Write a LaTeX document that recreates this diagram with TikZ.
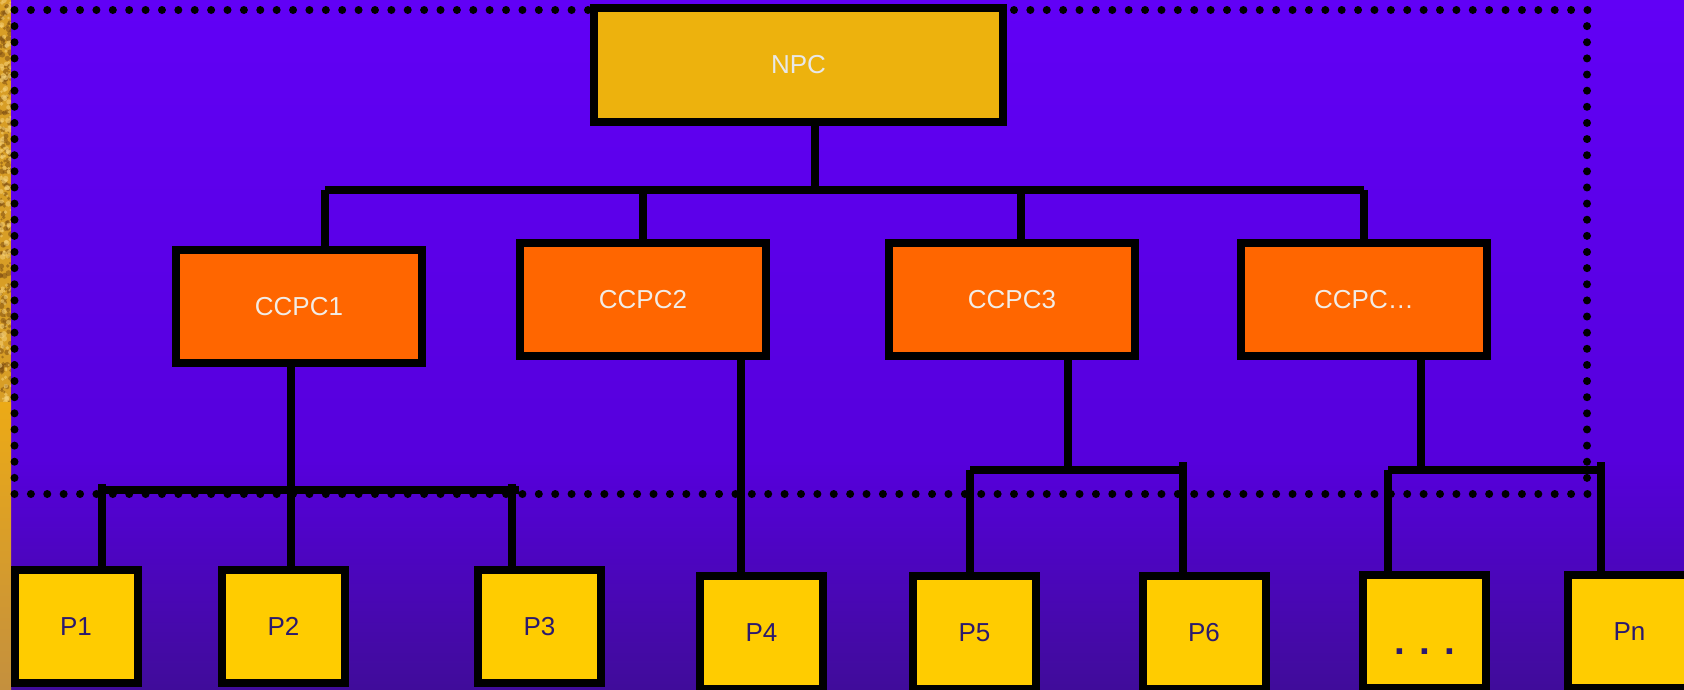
\documentclass[tikz,border=0pt]{standalone}
\usepackage{fontspec}
\setmainfont{Liberation Sans}
\pgfdeclarelayer{back}
\pgfdeclarelayer{lines}
\pgfsetlayers{back,lines,main}
\definecolor{npcfill}{HTML}{EDB20D}
\definecolor{ccpcfill}{HTML}{FF6600}
\definecolor{pfill}{HTML}{FFCC00}
\definecolor{npctext}{HTML}{E8E8E8}
\definecolor{ccpctext}{HTML}{F2ECE6}
\definecolor{ptext}{HTML}{2B1A6E}
\definecolor{bgA}{HTML}{6100F6}
\definecolor{bgB}{HTML}{5600DC}
\definecolor{bgC}{HTML}{400C9A}
\definecolor{stripA}{HTML}{D89E26}
\definecolor{stripDark}{HTML}{7A4A12}
\definecolor{stripLight}{HTML}{F6D27A}
\definecolor{stripB}{HTML}{ECAA16}
\definecolor{stripC}{HTML}{C4903E}
\tikzset{
  box/.style={draw=black, line width=6pt, inner sep=0pt, font=\fontsize{19.5}{23}\selectfont},
  npcbox/.style={box, fill=npcfill, text=npctext, minimum width={409*0.75pt}, minimum height={114*0.75pt}},
  ccpcbox/.style={box, fill=ccpcfill, text=ccpctext, minimum width={246*0.75pt}, minimum height={113*0.75pt}},
  pbox/.style={box, fill=pfill, text=ptext, minimum width={123*0.75pt}, minimum height={113*0.75pt}},
  wire/.style={draw=black, line width=6pt, line cap=butt},
  framedot/.style={fill=black},
}
\begin{document}
\begin{tikzpicture}[x=0.75pt,y=-0.75pt]
\clip (0,0) rectangle (1684,689);
% boxes
\node[npcbox] (npc) at (798.5,65) {NPC};
\node[ccpcbox] (c1) at (299,306.5) {CCPC1};
\node[ccpcbox] (c2) at (643,299.5) {CCPC2};
\node[ccpcbox] (c3) at (1012,299.5) {CCPC3};
\node[ccpcbox] (c4) at (1364,299.5) {CCPC…};
\node[pbox] (p1) at (76,626.5) {P1};
\node[pbox] (p2) at (283.5,626.5) {P2};
\node[pbox] (p3) at (539.5,626.5) {P3};
\node[pbox] (p4) at (761.5,632.5) {P4};
\node[pbox] (p5) at (974.5,632.5) {P5};
\node[pbox] (p6) at (1204,632.5) {P6};
\node[pbox] (pd) at (1424.5,631.5) {\smash{\raisebox{-17.6pt}{\fontsize{29}{30}\selectfont\bfseries . . .}}};
\node[pbox] (pn) at (1629.5,631.5) {Pn};
% background
\begin{pgfonlayer}{back}
  \fill[top color=bgA, bottom color=bgB] (0,0) rectangle (1684,460);
  \fill[top color=bgB, bottom color=bgC] (0,459.5) rectangle (1684,689);
  \begin{scope}
    \clip (0,0) rectangle (11,402);
    \fill[stripA] (0,0) rectangle (11,402);
    \pgfmathsetseed{7}
    \foreach \i in {1,...,170}{
      \pgfmathsetmacro\xx{rnd*11}
      \pgfmathsetmacro\yy{rnd*402}
      \pgfmathsetmacro\rr{0.7+rnd*1.6}
      \fill[stripDark,opacity=0.5] (\xx,\yy) circle[radius=\rr pt];
    }
    \foreach \i in {1,...,140}{
      \pgfmathsetmacro\xx{rnd*11}
      \pgfmathsetmacro\yy{rnd*402}
      \pgfmathsetmacro\rr{0.7+rnd*1.5}
      \fill[stripLight,opacity=0.55] (\xx,\yy) circle[radius=\rr pt];
    }
  \end{scope}
  \fill[top color=stripB, bottom color=stripC] (0,402) rectangle (11,689);
  % dotted frame
  \foreach \i in {0,...,96}{
    \fill[framedot] (14.5+\i*16.385,10) circle[radius=3pt];
    \fill[framedot] (14.5+\i*16.385,494) circle[radius=3pt];
  }
  \foreach \i in {1,...,29}{
    \fill[framedot] (14.5,10+\i*16.133) circle[radius=3pt];
    \fill[framedot] (1587,10+\i*16.133) circle[radius=3pt];
  }
\end{pgfonlayer}
% connectors
\begin{pgfonlayer}{lines}
  \coordinate (t0) at (815,190);
  \coordinate (t1) at (325,190);
  \coordinate (t2) at (643,190);
  \coordinate (t3) at (1021,190);
  \coordinate (t4) at (1364,190);
  \draw[wire] (t1) -- (t4);
  \draw[wire] (npc.south -| t0) -- (t0);
  \draw[wire] (t1) -- (t1 |- c1.north);
  \draw[wire] (t2) -- (t2 |- c2.north);
  \draw[wire] (t3) -- (t3 |- c3.north);
  \draw[wire] (t4) -- (t4 |- c4.north);
  % CCPC1 group
  \coordinate (aL) at (98,490);
  \coordinate (aR) at (519,490);
  \coordinate (a1) at (102,484);
  \coordinate (a2) at (291,490);
  \coordinate (a3) at (512,484);
  \draw[wire] (aL) -- (aR);
  \draw[wire] (a1) -- (a1 |- p1.north);
  \draw[wire] (a3) -- (a3 |- p3.north);
  \draw[wire] (c1.south -| a2) -- (a2 |- p2.north);
  % CCPC2 - P4
  \coordinate (s4) at (741,450);
  \draw[wire] (c2.south -| s4) -- (p4.north -| s4);
  % CCPC3 group
  \coordinate (m5) at (970,469.5);
  \coordinate (m6) at (1183,462);
  \coordinate (mR) at (1187,469.5);
  \coordinate (m3) at (1068,469.5);
  \draw[wire] (m5) -- (mR);
  \draw[wire] (m5) -- (m5 |- p5.north);
  \draw[wire] (m6) -- (m6 |- p6.north);
  \draw[wire] (c3.south -| m3) -- (m3);
  % CCPC... group
  \coordinate (r1) at (1388,469.5);
  \coordinate (rn) at (1601,462);
  \coordinate (rR) at (1605,469.5);
  \coordinate (r4) at (1421,469.5);
  \draw[wire] (r1) -- (rR);
  \draw[wire] (r1) -- (r1 |- pd.north);
  \draw[wire] (rn) -- (rn |- pn.north);
  \draw[wire] (c4.south -| r4) -- (r4);
\end{pgfonlayer}
\end{tikzpicture}
\end{document}
